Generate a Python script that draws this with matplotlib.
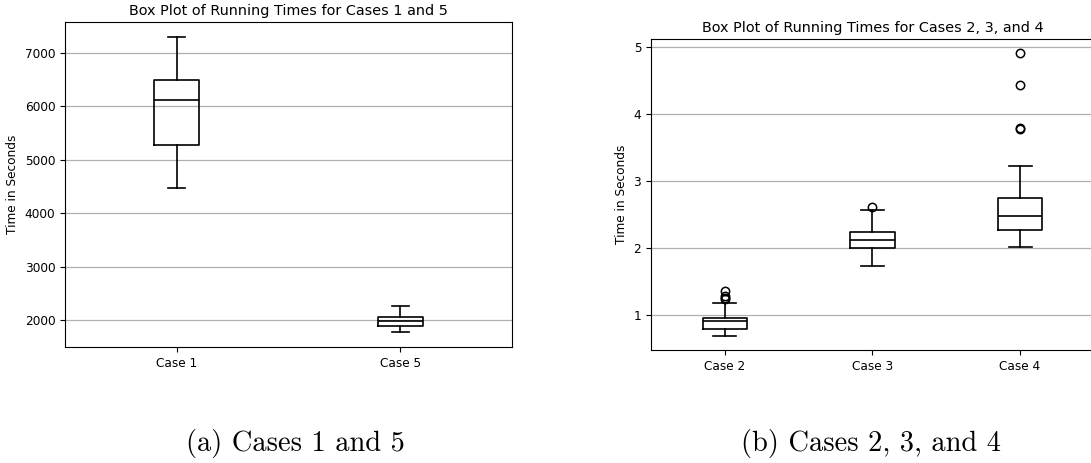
import matplotlib
matplotlib.use('Agg')
import matplotlib.pyplot as plt

# panel (a): cases 1 and 5
labels_a = ['Case 1', 'Case 5']
whislo_a = [4465, 1775]
q1_a = [5275, 1900]
med_a = [6115, 1980]
q3_a = [6495, 2055]
whishi_a = [7300, 2268]
fliers_a = [[], []]

# panel (b): cases 2, 3 and 4
labels_b = ['Case 2', 'Case 3', 'Case 4']
whislo_b = [0.69, 1.74, 2.015]
q1_b = [0.79, 2.00, 2.275]
med_b = [0.915, 2.12, 2.485]
q3_b = [0.96, 2.235, 2.745]
whishi_b = [1.175, 2.57, 3.22]
fliers_b = [[1.24, 1.26, 1.29, 1.36], [2.61], [3.77, 3.79, 4.43, 4.91]]


def make_stats(labels, lo, q1, med, q3, hi, fliers):
    stats = []
    for i in range(len(labels)):
        stats.append({'label': labels[i], 'whislo': lo[i], 'q1': q1[i], 'med': med[i],
                      'q3': q3[i], 'whishi': hi[i], 'fliers': fliers[i]})
    return stats


def draw_box(ax, stats, widths, capwidths, title):
    black = dict(color='black', linewidth=1.2)
    ax.bxp(stats, widths=widths, capwidths=capwidths, showfliers=True,
           boxprops=black, whiskerprops=black, capprops=black, medianprops=black,
           flierprops=dict(marker='o', markerfacecolor='none', markeredgecolor='black',
                           markersize=6, markeredgewidth=1.1))
    ax.yaxis.grid(True, color='#b0b0b0', linewidth=0.9)
    ax.set_axisbelow(True)
    ax.set_ylabel('Time in Seconds', fontsize=8.75)
    ax.set_title(title, fontsize=10.4, pad=5)
    ax.tick_params(labelsize=8.75)


fig = plt.figure(figsize=(10.91, 4.63), dpi=100)

ax1 = fig.add_axes([0.0596, 0.2505, 0.4097, 0.702])
draw_box(ax1, make_stats(labels_a, whislo_a, q1_a, med_a, q3_a, whishi_a, fliers_a),
         0.2, 0.078, 'Box Plot of Running Times for Cases 1 and 5')

ax2 = fig.add_axes([0.5967, 0.244, 0.406, 0.672])
draw_box(ax2, make_stats(labels_b, whislo_b, q1_b, med_b, q3_b, whishi_b, fliers_b),
         0.3, 0.155, 'Box Plot of Running Times for Cases 2, 3, and 4')
ax2.set_yticks([1, 2, 3, 4, 5])

fig.text(0.271, 0.043, '(a) Cases 1 and 5', family='cmr10', fontsize=20.5,
         ha='center', va='center')
fig.text(0.798, 0.043, '(b) Cases 2, 3, and 4', family='cmr10', fontsize=20.5,
         ha='center', va='center')

fig.savefig('out.png', dpi=100)
